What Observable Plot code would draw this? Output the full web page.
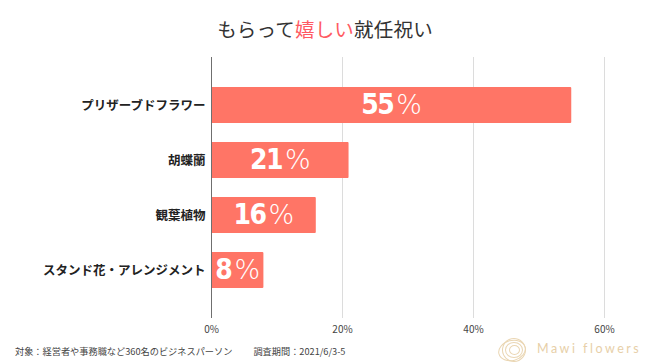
<!DOCTYPE html>
<html>
<head>
<meta charset="utf-8">
<script src="https://cdn.jsdelivr.net/npm/d3@7"></script>
<script src="https://cdn.jsdelivr.net/npm/@observablehq/plot@0.6"></script>
<style>
  html, body { margin: 0; padding: 0; background: #fff; }
  #wrap { position: relative; width: 650px; height: 364px; overflow: hidden; font-family: "Noto Sans CJK JP", "Noto Sans", sans-serif; }
  #title { position: absolute; left: 0; width: 650px; top: 14px; text-align: center; font-size: 19.5px; color: #333; letter-spacing: 0.2px; white-space: nowrap; }
  #title .hl { color: #ff5a63; }
  #foot { position: absolute; left: 15px; top: 344px; font-size: 9.2px; color: #444; white-space: nowrap; }
  #logo { position: absolute; left: 497px; top: 336px; width: 148px; height: 28px; }
  #logo .t { position: absolute; left: 40px; top: 5px; font-family: "Lato", sans-serif; font-size: 12.5px; letter-spacing: 2.5px; color: #e7cfa8; white-space: nowrap; }
  #logo .c { position: absolute; border: 1px solid #ead6b3; border-radius: 50%; }
  #chart { position: absolute; left: 0; top: 0; }
</style>
</head>
<body>
<div id="wrap">
  <div id="chart"></div>
  <div id="title">もらって<span class="hl">嬉しい</span>就任祝い</div>
  <div id="foot">対象：経営者や事務職など360名のビジネスパーソン<span style="display:inline-block;width:21px"></span>調査期間：2021/6/3-5</div>
  <div id="logo">
    <div class="c" style="left:1px;top:4px;width:26px;height:19px;transform:rotate(-15deg)"></div>
    <div class="c" style="left:5px;top:2px;width:22px;height:22px;transform:rotate(20deg)"></div>
    <div class="c" style="left:8px;top:6px;width:16px;height:14px"></div>
    <div class="c" style="left:12px;top:9px;width:9px;height:8px"></div>
    <div class="t">Mawi flowers</div>
  </div>
</div>
<script>
const categories = ["プリザーブドフラワー", "胡蝶蘭", "観葉植物", "スタンド花・アレンジメント"];
const values = [55, 21, 16, 8];
const xTicks = [0, 20, 40, 60];
const tickLabels = ["0%", "20%", "40%", "60%"];

const data = categories.map((c, i) => ({category: c, value: values[i]}));

const chart = Plot.plot({
  width: 650,
  height: 364,
  marginLeft: 211,
  marginRight: 46,
  marginTop: 57,
  marginBottom: 46,
  style: {fontFamily: '"Noto Sans CJK JP", sans-serif', background: "transparent"},
  x: {domain: [0, 60], ticks: xTicks, tickFormat: (d, i) => tickLabels[i], tickSize: 0, tickPadding: 5, label: null},
  y: {domain: categories, padding: 0.35, insetTop: 10, insetBottom: 10, label: null, axis: null},
  marks: [
    Plot.ruleX(xTicks.filter(d => d !== 0), {stroke: "#dcdcdc", strokeWidth: 1}),
    Plot.barX(data, {x: "value", y: "category", fill: "#ff7566", rx: 1}),
    Plot.ruleX([0], {stroke: "#6f6f6f", strokeWidth: 1}),
    Plot.axisX({ticks: xTicks, tickFormat: (d, i) => tickLabels[i], tickSize: 0, tickPadding: 7, fontSize: 10, color: "#444", label: null}),
    Plot.text(data, {x: 0, y: "category", text: "category", textAnchor: "end", dx: -6, fontSize: 12.5, fontWeight: "bold", fill: "#222"}),
    Plot.text(data, {x: d => d.value / 2, y: "category", text: d => d.value + "%", fill: "white", fontSize: 28, className: "vlab"})
  ]
});
document.getElementById("chart").appendChild(chart);

// style the value labels: bold condensed digits + thin percent sign
d3.select(chart).selectAll("g.vlab text, .vlab text").each(function() {
  const t = d3.select(this);
  const s = t.text();
  const num = s.replace("%", "");
  t.text(null);
  t.append("tspan").text(num)
    .attr("font-family", '"DejaVu Sans Condensed", "DejaVu Sans", sans-serif')
    .attr("font-weight", "bold")
    .attr("font-stretch", "condensed")
    .attr("letter-spacing", "-1.5");
  t.append("tspan").text("%")
    .attr("dx", 3)
    .attr("font-family", '"DejaVu Sans", sans-serif')
    .attr("font-weight", "200")
    .attr("font-size", 27);
});
</script>
</body>
</html>
